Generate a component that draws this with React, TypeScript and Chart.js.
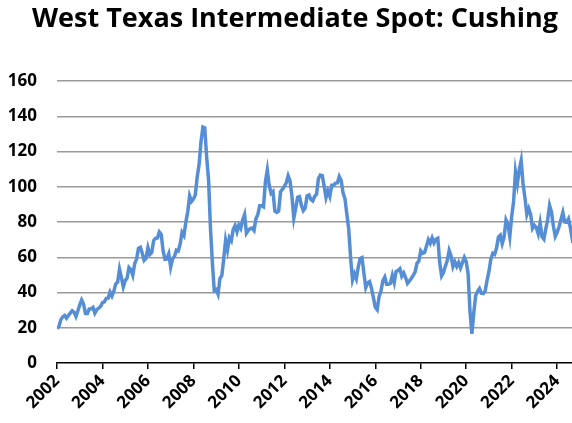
import React, { useEffect, useRef } from "react";
import { Chart, registerables } from "chart.js";

Chart.register(...registerables);

// Monthly WTI Cushing spot price, $/bbl (Jan..Dec)
const wti2002 = [19.7, 20.7, 24.5, 26.2, 27.0, 25.5, 27.0, 28.4, 29.7, 28.8, 26.4, 29.5];
const wti2003 = [33.0, 35.8, 33.5, 28.2, 28.1, 30.7, 30.8, 31.6, 28.3, 30.3, 31.1, 32.1];
const wti2004 = [34.3, 34.7, 36.7, 36.8, 40.3, 38.0, 40.8, 44.9, 45.9, 53.3, 48.5, 43.2];
const wti2005 = [46.8, 48.2, 54.2, 53.0, 49.8, 56.4, 59.0, 65.0, 65.6, 62.3, 58.3, 59.4];
const wti2006 = [65.5, 61.6, 62.7, 69.4, 70.8, 71.0, 74.4, 73.0, 63.8, 58.9, 59.1, 62.0];
const wti2007 = [54.5, 59.3, 60.4, 64.0, 63.5, 67.5, 74.1, 72.4, 79.9, 85.8, 94.8, 91.7];
const wti2008 = [93.0, 95.4, 105.5, 112.6, 125.4, 133.9, 133.4, 116.7, 104.1, 76.6, 57.3, 41.1];
const wti2009 = [41.7, 39.1, 47.9, 49.7, 59.0, 69.6, 64.2, 71.1, 69.4, 75.7, 78.0, 74.5];
const wti2010 = [78.3, 76.4, 81.2, 84.3, 73.7, 75.3, 76.3, 76.6, 75.2, 81.9, 84.3, 89.2];
const wti2011 = [89.2, 88.6, 102.9, 109.5, 100.9, 96.3, 97.3, 86.3, 85.5, 86.3, 97.2, 98.6];
const wti2012 = [100.3, 102.2, 106.2, 103.3, 94.7, 82.3, 87.9, 94.1, 94.5, 89.5, 86.5, 87.9];
const wti2013 = [94.8, 95.3, 92.9, 92.0, 94.5, 95.8, 104.7, 106.6, 106.3, 100.5, 93.9, 97.6];
const wti2014 = [94.6, 100.8, 100.8, 102.1, 102.2, 105.8, 103.6, 96.5, 93.2, 84.4, 75.8, 59.3];
const wti2015 = [47.2, 50.6, 47.8, 54.5, 59.3, 59.8, 50.9, 42.9, 45.5, 46.2, 42.4, 37.2];
const wti2016 = [31.7, 30.3, 37.6, 40.8, 46.7, 48.8, 44.7, 44.7, 45.2, 49.8, 45.7, 52.0];
const wti2017 = [52.5, 53.5, 49.3, 51.1, 48.5, 45.2, 46.6, 48.0, 49.8, 51.6, 56.6, 57.9];
const wti2018 = [63.7, 62.2, 62.7, 66.3, 70.0, 67.9, 71.0, 68.1, 70.2, 70.8, 57.0, 49.5];
const wti2019 = [51.4, 55.0, 58.2, 63.9, 60.8, 54.7, 57.4, 54.8, 57.0, 54.0, 57.0, 59.9];
const wti2020 = [57.5, 50.5, 29.2, 16.6, 28.6, 38.3, 40.7, 42.3, 39.6, 39.4, 40.9, 47.0];
const wti2021 = [52.0, 59.0, 62.3, 61.7, 65.2, 71.4, 72.5, 67.7, 71.5, 81.2, 78.7, 71.7];
const wti2022 = [83.2, 91.6, 108.5, 101.8, 109.6, 114.8, 101.6, 93.7, 84.3, 87.6, 84.4, 76.4];
const wti2023 = [78.1, 76.8, 73.3, 79.5, 71.6, 70.3, 76.1, 81.4, 89.4, 85.6, 77.7, 71.9];
const wti2024 = [74.2, 77.3, 81.3, 85.4, 80.0, 79.8, 81.8, 76.7, 70.2, 71.6, 69.7, 70.1];

const startYear = 2002;
const years = [
  wti2002, wti2003, wti2004, wti2005, wti2006, wti2007, wti2008, wti2009,
  wti2010, wti2011, wti2012, wti2013, wti2014, wti2015, wti2016, wti2017,
  wti2018, wti2019, wti2020, wti2021, wti2022, wti2023, wti2024,
];
const yTicks = [0, 20, 40, 60, 80, 100, 120, 140, 160];
const titleText = "West Texas Intermediate Spot: Cushing";

const titleShift = {
  id: "titleShift",
  afterLayout(chart: any) {
    const t = chart.titleBlock;
    if (t) {
      t.left = 12;
      t.right = 578;
    }
  },
};

export default function App() {
  const ref = useRef<HTMLCanvasElement | null>(null);

  useEffect(() => {
    if (!ref.current) return;
    const monthly: number[] = ([] as number[]).concat(...years);
    const points = monthly.map((v, i) => ({ x: startYear + i / 12, y: v }));
    const xMax = startYear + (monthly.length - 1) / 12;
    const font = "'Open Sans', 'DejaVu Sans', sans-serif";

    const chart = new Chart(ref.current, {
      type: "line",
      data: {
        datasets: [
          {
            data: points,
            borderColor: "#558ED5",
            borderWidth: 3.5,
            pointRadius: 0,
            tension: 0,
            fill: false,
          },
        ],
      },
      plugins: [titleShift],
      options: {
        animation: false,
        responsive: true,
        maintainAspectRatio: false,
        layout: { padding: { left: 0, right: 16, top: 0, bottom: 8 } },
        plugins: {
          legend: { display: false },
          tooltip: { enabled: false },
          title: {
            display: true,
            text: titleText,
            color: "#000",
            font: { family: font, size: 27, weight: "bold" },
            padding: { top: 3, bottom: 45.6 },
          },
        },
        scales: {
          x: {
            type: "linear",
            min: startYear,
            max: xMax,
            afterFit: (axis: any) => {
              axis.paddingLeft = 0;
              axis.paddingRight = 0;
            },
            grid: {
              drawOnChartArea: false,
              drawTicks: true,
              tickLength: 6,
              color: "#000",
              lineWidth: 1.5,
            },
            border: { display: true, color: "#000", width: 1.5 },
            ticks: {
              stepSize: 2,
              includeBounds: false,
              maxRotation: 45,
              minRotation: 45,
              autoSkip: false,
              padding: 2,
              color: "#000",
              font: { family: font, size: 17, weight: "bold" },
              callback: (v: any) => String(v),
            },
          },
          y: {
            min: yTicks[0],
            max: yTicks[yTicks.length - 1],
            afterBuildTicks: (axis: any) => {
              axis.ticks = yTicks.map((v) => ({ value: v }));
            },
            afterFit: (axis: any) => {
              axis.width = 57;
            },
            grid: {
              drawTicks: false,
              color: (ctx: any) => (ctx.tick && ctx.tick.value === 0 ? "rgba(0,0,0,0)" : "#9a9a9a"),
              lineWidth: 1.5,
            },
            border: { display: false },
            ticks: {
              padding: 20,
              color: "#000",
              font: { family: font, size: 17, weight: "bold" },
            },
          },
        },
      },
    });
    return () => chart.destroy();
  }, []);

  return (
    <div style={{ position: "fixed", left: 0, top: 0, width: 572, height: 423, overflow: "hidden", background: "#fff" }}>
      <div style={{ position: "relative", width: 594, height: 423 }}>
        <canvas ref={ref} />
      </div>
    </div>
  );
}
